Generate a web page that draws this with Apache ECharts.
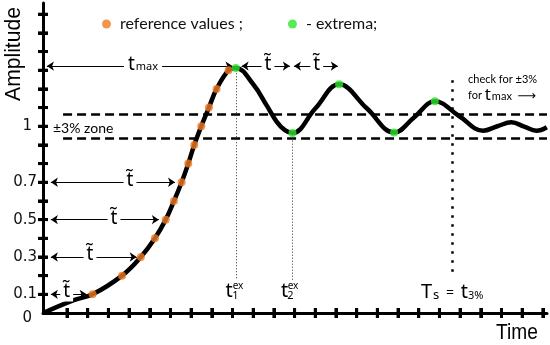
<!DOCTYPE html>
<html><head><meta charset="utf-8">
<script src="https://cdn.jsdelivr.net/npm/echarts@6/dist/echarts.min.js"></script>
<style>html,body{margin:0;padding:0;background:#fff}#c{width:550px;height:345px}</style>
</head><body><div id="c"></div>
<script>
// step-response curve (time in tick units, amplitude)
const curveTime = [-0.16,1.3,2.24,3.66,4.57,5.25,5.77,6.17,6.54,6.86,7.15,7.49,7.86,8.23,8.81,9.16,10.0,10.65,11.13,11.53,11.9,13.0,14.15,15.5,16.81,17.8,18.78,19.95,21.11,21.8,22.48,23.1,23.69,24.19];
const curveAmp  = [0,0.068,0.1,0.2,0.3,0.4,0.5,0.6,0.7,0.8,0.9,1.0,1.1,1.2,1.3,1.312,1.225,1.112,1.025,0.979,0.964,1.095,1.225,1.095,0.966,1.05,1.134,1.055,0.976,1.0,1.021,0.998,0.976,0.995];
// reference values (orange)
const refTime = [2.24,3.66,4.57,5.25,5.77,6.17,6.54,6.86,7.15,7.49,7.86,8.23,8.81];
const refAmp  = [0.1,0.2,0.3,0.4,0.5,0.6,0.7,0.8,0.9,1.0,1.1,1.2,1.3];
// extrema (green)
const extTime = [9.16,11.9,14.15,16.81,18.78];
const extAmp  = [1.312,0.964,1.225,0.966,1.134];
// axis ticks / labels
const xTicks = [1,2,3,4,5,6,7,8,9,10,11,12,13,14,15,16,17,18,19,20,21,22,23,24];
const yTicks = [0.1,0.2,0.3,0.4,0.5,0.6,0.7,0.8,0.9,1.0,1.1,1.2,1.3,1.4,1.5,1.6];
const yLabels = [0,0.1,0.3,0.5,0.7,1];
const zoneHigh = 1.063, zoneLow = 0.937;

const X_MIN = -0.16, X_MAX = 24.2, Y_MIN = 0, Y_MAX = 1.66;
const zip = (a,b)=>a.map((v,i)=>[v,b[i]]);
const chart = echarts.init(document.getElementById('c'));

const arrowLine = {color:'#000',width:1,type:'solid'};
function arrow(x1,x2,y){
  return [{coord:[x1,y],symbol:'arrow'},{coord:[x2,y],symbol:'arrow'}];
}
const marks = [
  [{coord:[0.81,zoneHigh],lineStyle:{type:[9,5],width:2.5,color:'#000'}},{coord:[24.2,zoneHigh]}],
  [{coord:[0.81,zoneLow],lineStyle:{type:[9,5],width:2.5,color:'#000'}},{coord:[24.2,zoneLow]}],
  [{coord:[9.16,1.30],lineStyle:{type:[1,2],width:1,color:'#333'}},{coord:[9.16,0.176]}],
  [{coord:[11.9,0.955],lineStyle:{type:[1,2],width:1,color:'#333'}},{coord:[11.9,0.176]}],
  [{coord:[19.63,1.246],lineStyle:{type:[2.5,6.5],width:2.5,color:'#000'}},{coord:[19.63,0.214]}],
  arrow(0.03,9.0,1.322), arrow(9.44,11.77,1.322), arrow(11.97,14.09,1.322),
  arrow(0.22,6.22,0.7), arrow(0.22,5.44,0.5), arrow(0.22,4.37,0.3), arrow(0.22,1.95,0.1)
];
const TT = 't\u0303';
function tt(x,y){ return {type:'text',z:100,x:x,y:y,style:{text:TT,fontFamily:'Noto Sans',fontSize:19,fill:'#000',align:'center',verticalAlign:'middle',backgroundColor:'#fff',padding:[0,3]}}; }
const graphics = [
  {type:'text',z:100,x:14,y:54,rotation:Math.PI/2,scaleX:0.96,style:{text:'Amplitude',fontFamily:'Liberation Sans',fontSize:22,fill:'#000',align:'center',verticalAlign:'middle'}},
  {type:'text',z:100,x:517,y:333,scaleX:0.87,style:{text:'Time',fontFamily:'Liberation Sans',fontSize:22,fill:'#000',align:'center',verticalAlign:'middle'}},
  {type:'text',z:100,x:143,y:65,style:{text:'{t|t}{m|max}',align:'center',verticalAlign:'middle',backgroundColor:'#fff',padding:[0,4],
     rich:{t:{fontFamily:'Noto Sans',fontSize:19,fill:'#000',verticalAlign:'bottom'},m:{fontFamily:'Noto Sans',fontSize:11,fill:'#000',verticalAlign:'bottom',padding:[0,0,2,1]}}}},
  tt(268,65), tt(316.7,65), tt(130,181), tt(114,218.5), tt(90,255), tt(66.7,292),
  {type:'text',z:100,x:53,y:128,style:{text:'\u00b13% zone',fontFamily:'Lato',fontSize:14,fill:'#000',align:'left',verticalAlign:'middle'}},
  {type:'text',z:100,x:468,y:79,style:{text:'check for \u00b13%',fontFamily:'Lato',fontSize:11,fill:'#000',align:'left',verticalAlign:'middle'}},
  {type:'text',z:100,x:468,y:95,style:{text:'for {t|t}{m|max}  {a|\u27f6}',fontFamily:'Lato',fontSize:11,fill:'#000',align:'left',verticalAlign:'middle',
     rich:{t:{fontFamily:'Noto Sans',fontSize:17,fill:'#000',verticalAlign:'bottom'},m:{fontFamily:'Lato',fontSize:11,fill:'#000',verticalAlign:'bottom',padding:[0,0,2,1]},a:{fontFamily:'DejaVu Sans',fontSize:13,fill:'#000',verticalAlign:'bottom'}}}},
  {type:'text',z:100,x:229,y:291,style:{text:'t',fontFamily:'Noto Sans',fontSize:20,fill:'#000',align:'center',verticalAlign:'middle'}},
  {type:'text',z:100,x:238,y:286,style:{text:'ex',fontFamily:'Noto Sans',fontSize:10,fill:'#000',align:'center',verticalAlign:'middle'}},
  {type:'text',z:100,x:235.5,y:296,style:{text:'1',fontFamily:'Noto Sans',fontSize:11,fill:'#000',align:'center',verticalAlign:'middle'}},
  {type:'text',z:100,x:284.5,y:291,style:{text:'t',fontFamily:'Noto Sans',fontSize:20,fill:'#000',align:'center',verticalAlign:'middle'}},
  {type:'text',z:100,x:293,y:286,style:{text:'ex',fontFamily:'Noto Sans',fontSize:10,fill:'#000',align:'center',verticalAlign:'middle'}},
  {type:'text',z:100,x:290.5,y:296,style:{text:'2',fontFamily:'Noto Sans',fontSize:11,fill:'#000',align:'center',verticalAlign:'middle'}},
  {type:'text',z:100,x:421,y:292,style:{text:'{T|T}{s|s}  {e|=}  {T|t}{p|3%}',align:'left',verticalAlign:'middle',
     rich:{T:{fontFamily:'Noto Sans',fontSize:20,fill:'#000',verticalAlign:'bottom'},s:{fontFamily:'Noto Sans',fontSize:13,fill:'#000',verticalAlign:'bottom',padding:[0,0,0,1]},
           e:{fontFamily:'Noto Sans',fontSize:14,fill:'#000',verticalAlign:'bottom',padding:[0,0,2,0]},p:{fontFamily:'Noto Sans',fontSize:11,fill:'#000',verticalAlign:'bottom',padding:[0,0,1,0]}}}}
];
const tickLine = {color:'#000',width:3};
chart.setOption({
  animation:false,
  grid:[{left:43,right:3,top:3,bottom:32,containLabel:false}],
  legend:{left:97,top:11,itemGap:45,icon:'circle',itemWidth:9,itemHeight:9,selectedMode:false,
    textStyle:{fontFamily:'Lato',fontSize:16,color:'#111',padding:[0,0,0,4]},
    data:['reference values ;','- extrema;']},
  xAxis:[
    {type:'value',min:X_MIN,max:X_MAX,
     axisLine:{show:true,onZero:false,lineStyle:{color:'#000',width:3}},
     axisTick:{show:true,inside:false,length:5,lineStyle:tickLine,customValues:xTicks},
     axisLabel:{show:false},splitLine:{show:false}},
    {type:'value',min:X_MIN,max:X_MAX,position:'bottom',offset:0,
     axisLine:{show:false,onZero:false},
     axisTick:{show:true,inside:true,length:5,lineStyle:tickLine,customValues:xTicks},
     axisLabel:{show:false},splitLine:{show:false}}
  ],
  yAxis:[
    {type:'value',min:Y_MIN,max:Y_MAX,
     axisLine:{show:true,onZero:false,lineStyle:{color:'#000',width:3}},
     axisTick:{show:true,inside:false,length:5,lineStyle:tickLine,customValues:yTicks},
     axisLabel:{show:true,customValues:yLabels,margin:6,color:'#111',fontFamily:'DejaVu Sans',fontSize:15,
       formatter:function(v){ if(v===0) return '{z|0}'; if(v===1) return '{o|1}'; return String(v);},
       rich:{z:{fontFamily:'DejaVu Sans',fontSize:15,color:'#111',padding:[10,5,0,0]},
             o:{fontFamily:'DejaVu Sans',fontSize:15,color:'#111',padding:[0,5,0,0]}}},
     splitLine:{show:false}},
    {type:'value',min:Y_MIN,max:Y_MAX,position:'left',offset:0,
     axisLine:{show:false,onZero:false},
     axisTick:{show:true,inside:true,length:5,lineStyle:tickLine,customValues:yTicks},
     axisLabel:{show:false},splitLine:{show:false}}
  ],
  series:[
    {type:'line',name:'curve',data:zip(curveTime,curveAmp),smooth:0.4,symbol:'none',z:3,
     lineStyle:{color:'#000',width:4.5},
     markLine:{silent:true,animation:false,symbol:'none',symbolSize:7,label:{show:false},lineStyle:arrowLine,data:marks}},
    {type:'scatter',name:'reference values ;',data:zip(refTime,refAmp),symbolSize:8,z:5,itemStyle:{color:'#f07a22'}},
    {type:'scatter',name:'- extrema;',data:zip(extTime,extAmp),symbolSize:8,z:5,itemStyle:{color:'#2ee62e'}}
  ],
  graphic:graphics
});
// crossing tick marks, also placed through the chart's own axis scales
const tickEls = [];
xTicks.forEach(v=>{
  const p = chart.convertToPixel({gridIndex:0}, [v, Y_MIN]);
  tickEls.push({type:'rect',z:50,shape:{x:p[0]-1.5,y:p[1]-5,width:3,height:10},style:{fill:'#000'}});
});
yTicks.forEach(v=>{
  const p = chart.convertToPixel({gridIndex:0}, [X_MIN, v]);
  tickEls.push({type:'rect',z:50,shape:{x:p[0]-5,y:p[1]-1.5,width:10,height:3},style:{fill:'#000'}});
});
chart.setOption({graphic:graphics.concat(tickEls)});
</script></body></html>
